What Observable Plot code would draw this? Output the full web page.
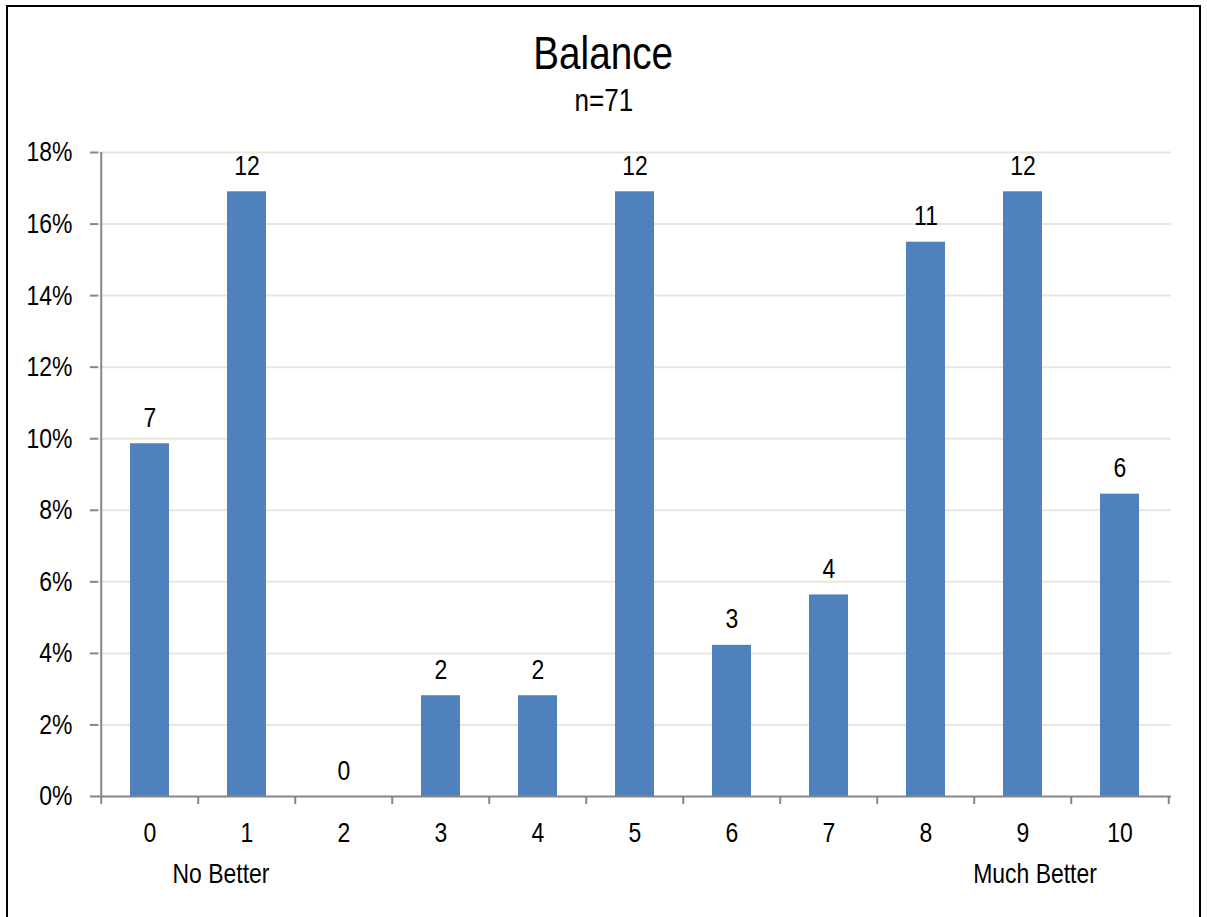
<!DOCTYPE html>
<html>
<head>
<meta charset="utf-8">
<script src="https://cdn.jsdelivr.net/npm/d3@7"></script>
<script src="https://cdn.jsdelivr.net/npm/@observablehq/plot@0.6"></script>
<style>
  html, body { margin: 0; padding: 0; background: #fff; }
  #wrap { position: relative; width: 1207px; height: 917px; overflow: hidden;
          font-family: "Liberation Sans", Arial, sans-serif; color: #000; }
  #border { position: absolute; left: 6px; top: 5px; width: 1195px; height: 940px; border: 2px solid #000; box-sizing: border-box; }
  .hd { position: absolute; left: 0; width: 1207px; text-align: center; line-height: 1; white-space: nowrap; }
  .hd span { display: inline-block; transform: scaleX(0.84); transform-origin: 50% 50%; }
  #title { top: 30px; font-size: 46px; }
  #subtitle { top: 85px; font-size: 31px; }
  #chart { position: absolute; left: 0; top: 130px; }
</style>
</head>
<body>
<div id="wrap">
  <div id="border"></div>
  <div id="title" class="hd"><span>Balance</span></div>
  <div id="subtitle" class="hd"><span>n=71</span></div>
  <div id="chart"></div>
</div>
<script>
const categories = ["0","1","2","3","4","5","6","7","8","9","10"];
const counts = [7, 12, 0, 2, 2, 12, 3, 4, 11, 12, 6];
const total = 71;
const yTicks = [0, 0.02, 0.04, 0.06, 0.08, 0.10, 0.12, 0.14, 0.16, 0.18];
const lowLabel = ["No Better"];   // under categories 0–1
const highLabel = ["Much Better"]; // under categories 9–10

const data = categories.map((c, i) => ({cat: c, count: counts[i], pct: counts[i] / total}));

const W = 1207, H = 787;
const mL = 98, mR = 36, mT = 22, mB = 121;
const step = (W - mL - mR) / categories.length;
const tickPx = 8;
const tickData = tickPx * 0.18 / (H - mT - mB);
const axisGray = "#868686";
const FS = 28;

const chart = Plot.plot({
  width: W, height: H,
  marginLeft: mL, marginRight: mR, marginTop: mT, marginBottom: mB,
  style: {fontFamily: '"Liberation Sans", Arial, sans-serif', fontSize: FS + "px", color: "#000", background: "transparent"},
  x: {domain: categories, paddingInner: 0.6, paddingOuter: 0.3, label: null},
  y: {domain: [0, 0.18], label: null},
  marks: [
    Plot.gridY(yTicks.filter(d => d > 0), {stroke: "#E9E6DA", strokeOpacity: 1, strokeWidth: 2}),
    Plot.barY(data, {x: "cat", y: "pct", fill: "#4F81BD"}),
    Plot.ruleY([0], {stroke: axisGray, strokeWidth: 2}),
    Plot.ruleX(categories, {x: d => d, dx: -step / 2, y1: -tickData, y2: 0, stroke: axisGray, strokeWidth: 2}),
    Plot.ruleX(["10"], {x: d => d, dx: step / 2, y1: -tickData, y2: 0, stroke: axisGray, strokeWidth: 2}),
    Plot.ruleX(["0"], {x: d => d, dx: -step / 2, y1: 0, y2: 0.18, stroke: axisGray, strokeWidth: 2}),
    Plot.axisY(yTicks, {tickFormat: d => Math.round(d * 100) + "%", tickSize: 8, tickPadding: 18, stroke: axisGray, strokeWidth: 2, fill: "#000", fontSize: FS}),
    Plot.axisX({tickSize: 0, tickPadding: 26, fontSize: FS, fill: "#000"}),
    Plot.text(data, {x: "cat", y: "pct", text: d => String(d.count), lineAnchor: "bottom", dy: -17, fontSize: FS, fill: "#000"}),
    Plot.text(lowLabel, {x: () => "1", y: () => 0, text: d => d, lineAnchor: "top", dx: -26, dy: 67, fontSize: FS, fill: "#000"}),
    Plot.text(highLabel, {x: () => "9", y: () => 0, text: d => d, lineAnchor: "top", dx: 12, dy: 67, fontSize: FS, fill: "#000"})
  ]
});

// condense text horizontally (Arial Narrow look) around each label's anchor
chart.querySelectorAll("text").forEach(t => {
  const tr = t.getAttribute("transform");
  if (tr) {
    t.setAttribute("transform", tr + " scale(0.82,1)");
  } else {
    const x = +(t.getAttribute("x") || 0), y = +(t.getAttribute("y") || 0);
    t.removeAttribute("x"); t.removeAttribute("y");
    t.setAttribute("transform", `translate(${x},${y}) scale(0.82,1)`);
  }
});
document.getElementById("chart").appendChild(chart);
</script>
</body>
</html>
